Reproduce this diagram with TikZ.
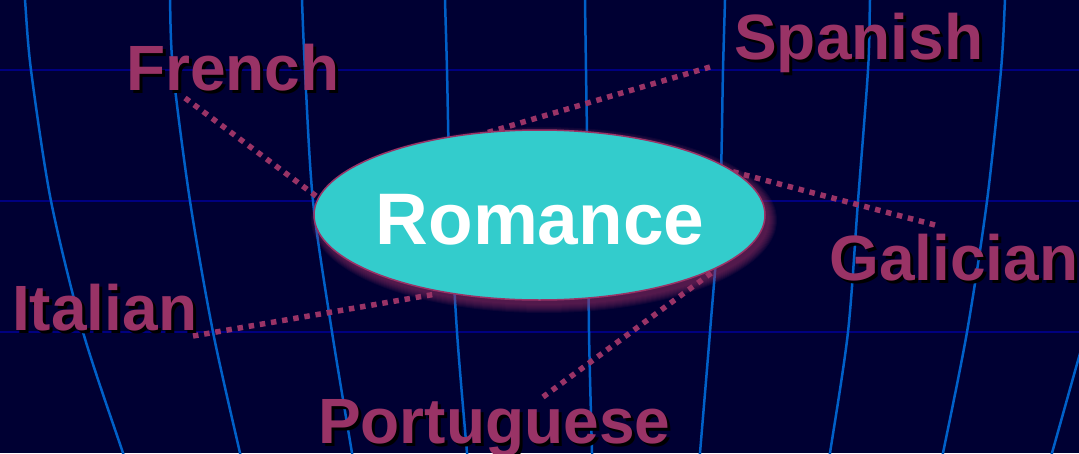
\documentclass[tikz,border=0pt]{standalone}
\usepackage{fontspec}
\usetikzlibrary{shapes.geometric}
\setmainfont{Liberation Sans}
\definecolor{bgnavy}{RGB}{0,0,51}
\definecolor{meridian}{RGB}{0,96,200}
\definecolor{parallel}{RGB}{0,0,128}
\definecolor{plum}{RGB}{153,51,102}
\definecolor{teal}{RGB}{51,204,204}
\tikzset{
  lbl/.style={anchor=base west, inner sep=0pt, text=plum, font=\fontsize{64}{64}\selectfont\bfseries},
  lblshadow/.style={lbl, text=black},
  dotline/.style={plum, line width=5.5pt, dash pattern=on 5.5pt off 5.8pt},
  merid/.style={meridian, line width=2.5pt},
  paral/.style={parallel, line width=1.3pt},
}
\newcommand\shlabel[4]{%
  \node[lblshadow] (#1s) at (#2+3,#3+3) {#4};
  \node[lbl] (#1) at (#2,#3) {#4};}
\begin{document}
\begin{tikzpicture}[x=1pt,y=-1pt]
\fill[bgnavy] (0,0) rectangle (1079,453);
\useasboundingbox (0,0) rectangle (1079,453);
\begin{scope}
\clip (0,0) rectangle (1079,453);
% parallels
\foreach \yy in {70,201,332} \draw[paral] (-5,\yy) -- (1085,\yy);
% meridians
\draw[merid] plot[smooth] coordinates {(24,-10) (25,0) (31,70) (51,201) (83,332) (123,453) (127,465)};
\draw[merid] plot[smooth] coordinates {(170,-10) (170,0) (173,70) (190,201) (213,332) (240,453) (243,465)};
\draw[merid] plot[smooth] coordinates {(302,-10) (302,0) (305,70) (313,201) (332,332) (352,453) (354,465)};
\draw[merid] plot[smooth] coordinates {(445,-10) (445,0) (447,70) (450,201) (457,332) (467,453) (468,465)};
\draw[merid] plot[smooth] coordinates {(585,-10) (585,0) (586,70) (588,201) (589,332) (592,453) (592,465)};
\draw[merid] plot[smooth] coordinates {(725,-10) (725,0) (723,70) (720,201) (710,332) (700,453) (699,465)};
\draw[merid] plot[smooth] coordinates {(871,-10) (870,0) (868,70) (858,201) (848,332) (830,453) (828,465)};
\draw[merid] plot[smooth] coordinates {(1006,-10) (1005,0) (1001,70) (987,201) (967,332) (943,453) (940,465)};
\draw[merid] plot[smooth] coordinates {(1110,230) (1096,300) (1079,357) (1052,453) (1048,465)};
\end{scope}
% connector end points
\coordinate (frA) at (185,98);  \coordinate (frB) at (316,196);
\coordinate (spA) at (710,67);  \coordinate (spB) at (486,133);
\coordinate (gaA) at (935,225); \coordinate (gaB) at (730,171);
\coordinate (itA) at (193,336); \coordinate (itB) at (436,294);
\coordinate (ptA) at (543,397); \coordinate (ptB) at (714,271);
\draw[dotline] (frA) -- (frB);
\draw[dotline] (spA) -- (spB);
\draw[dotline] (gaA) -- (gaB);
\draw[dotline] (itA) -- (itB);
\draw[dotline] (ptA) -- (ptB);
% glow of the ellipse
\foreach \k in {1,...,9}
  \fill[plum, opacity=0.085] (544,220) ellipse [x radius=224+\k, y radius=84+\k];
\node[ellipse, draw=plum, line width=1.5pt, fill=teal, minimum width=451pt, minimum height=170pt, inner sep=0pt] (rom) at (539.5,215) {};
\node[anchor=base, inner sep=0pt, text=white, font=\fontsize{73}{73}\selectfont\bfseries] (romt) at (540,244) {Romance};
% labels
\shlabel{french}{126}{90}{French}
\shlabel{spanish}{734}{59}{Spanish}
\shlabel{galician}{829}{280}{Galician}
\shlabel{italian}{12}{330}{Italian}
\shlabel{portuguese}{318}{443}{Portuguese}
\end{tikzpicture}
\end{document}
